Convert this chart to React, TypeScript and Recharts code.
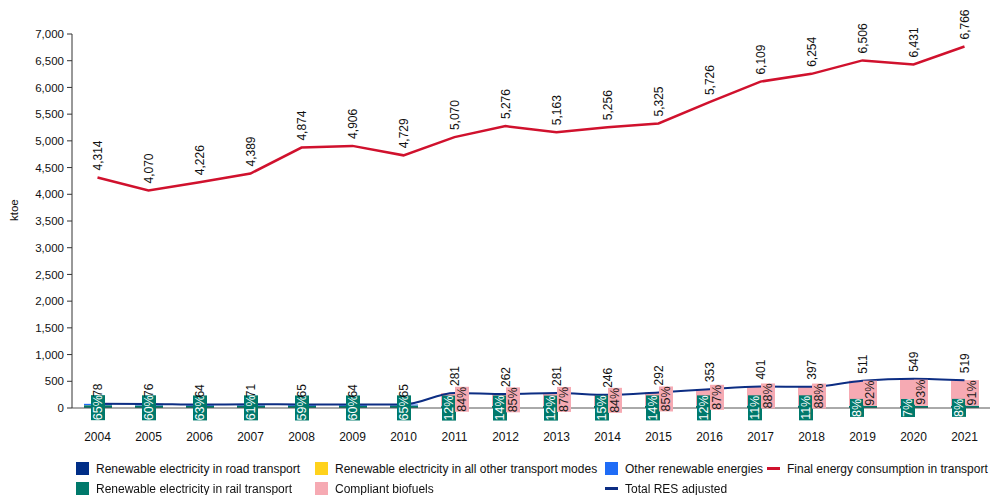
import React from 'react';
import {
  ComposedChart,
  Bar,
  Line,
  XAxis,
  YAxis,
  LabelList,
} from 'recharts';

const years = [
  '2004', '2005', '2006', '2007', '2008', '2009', '2010', '2011', '2012',
  '2013', '2014', '2015', '2016', '2017', '2018', '2019', '2020', '2021',
];

// ktoe
const finalConsumption = [
  4314, 4070, 4226, 4389, 4874, 4906, 4729, 5070, 5276,
  5163, 5256, 5325, 5726, 6109, 6254, 6506, 6431, 6766,
];
const totalRes = [
  78, 76, 64, 71, 65, 64, 65, 281, 262,
  281, 246, 292, 353, 401, 397, 511, 549, 519,
];
const railElec = [
  50, 45, 40, 43, 38, 38, 42, 34, 37,
  34, 37, 41, 42, 44, 44, 41, 38, 42,
];
const biofuels = [
  0, 0, 0, 0, 0, 0, 0, 236, 223,
  244, 207, 248, 307, 353, 349, 470, 511, 472,
];
const roadElec = [
  2, 2, 2, 2, 2, 2, 2, 1, 1,
  1, 1, 1, 1, 1, 1, 1, 1, 1,
];
const otherModesElec = [
  2, 2, 2, 2, 2, 2, 3, 1, 1,
  1, 1, 1, 1, 1, 1, 1, 1, 1,
];
const otherRenewables = [
  24, 27, 20, 24, 23, 22, 18, 9, 2,
  2, 1, 2, 3, 3, 3, 0, 0, 3,
];

const railShare = [
  '65%', '60%', '63%', '61%', '59%', '60%', '65%', '12%', '14%',
  '12%', '15%', '14%', '12%', '11%', '11%', '8%', '7%', '8%',
];
const bioShare = [
  '', '', '', '', '', '', '', '84%', '85%',
  '87%', '84%', '85%', '87%', '88%', '88%', '92%', '93%', '91%',
];

const yTicks = [0, 500, 1000, 1500, 2000, 2500, 3000, 3500, 4000, 4500, 5000, 5500, 6000, 6500, 7000];

const C = {
  road: '#002e87',
  other: '#ffd21c',
  renew: '#1f6cf6',
  rail: '#00796b',
  bio: '#f6aab3',
  final: '#d0112d',
  total: '#0c2d83',
};

const FONT = '"Liberation Sans", Arial, sans-serif';

const data = years.map((year, i) => ({
  year,
  rail: railElec[i],
  road: roadElec[i],
  otherModes: otherModesElec[i],
  renew: otherRenewables[i],
  bio: biofuels[i],
  railPct: railShare[i],
  bioPct: bioShare[i],
  final: finalConsumption[i],
  total: totalRes[i],
}));

const fmt = (v: number) => v.toLocaleString('en-US');

function lineLabel(gap: number) {
  return (props: any) => {
    const { x, y, value } = props;
    const ty = y - gap;
    return (
      <text
        x={x + 1}
        y={ty}
        transform={`rotate(-90 ${x + 1} ${ty})`}
        textAnchor="start"
        dominantBaseline="central"
        fontSize={12}
        fontFamily={FONT}
        fill="#111"
      >
        {fmt(value)}
      </text>
    );
  };
}

function shareLabel(kind: 'rail' | 'bio') {
  return (props: any) => {
    const { x, y, width, height, value, index } = props;
    if (!value) return null;
    const hasBio = bioShare[index] !== '';
    const cx = x + width / 2 + (kind === 'bio' ? 7 : hasBio ? -6 : 0);
    const cy = y + height / 2 + (kind === 'rail' ? 1 : 0);
    const len = String(value).length * 7 + 4;
    const bg = kind === 'rail' ? C.rail : C.bio;
    const fg = kind === 'rail' ? '#ffffff' : '#1a1a1a';
    return (
      <g>
        <rect x={cx - 7} y={cy - len / 2} width={14} height={len} fill={bg} />
        <text
          x={cx + 0.5}
          y={cy}
          transform={`rotate(-90 ${cx + 0.5} ${cy})`}
          textAnchor="middle"
          dominantBaseline="central"
          fontSize={12.5}
          fontFamily={FONT}
          fill={fg}
        >
          {value}
        </text>
      </g>
    );
  };
}

const legendItems = [
  { label: 'Renewable electricity in road transport', color: C.road, type: 'box', left: 76, top: 462 },
  { label: 'Renewable electricity in all other transport modes', color: C.other, type: 'box', left: 315, top: 462 },
  { label: 'Other renewable energies', color: C.renew, type: 'box', left: 605, top: 462 },
  { label: 'Final energy consumption in transport', color: C.final, type: 'line', left: 767, top: 462 },
  { label: 'Renewable electricity in rail transport', color: C.rail, type: 'box', left: 76, top: 482 },
  { label: 'Compliant biofuels', color: C.bio, type: 'box', left: 315, top: 482 },
  { label: 'Total RES adjusted', color: C.total, type: 'line', left: 605, top: 482 },
];

export default function App() {
  return (
    <div style={{ position: 'fixed', left: 0, top: 0, width: 992, height: 495, background: '#fff', fontFamily: FONT }}>
      <ComposedChart
        width={992}
        height={450}
        data={data}
        margin={{ top: 34, right: 2, left: 0, bottom: 0 }}
        barSize={28}
      >
        <XAxis
          dataKey="year"
          height={42}
          tickLine={false}
          tickSize={6}
          tickMargin={18}
          axisLine={{ stroke: '#555' }}
          tick={{ fontSize: 12, fill: '#111', fontFamily: FONT }}
          interval={0}
        />
        <YAxis
          width={72}
          domain={[0, 7000]}
          ticks={yTicks}
          tickFormatter={fmt}
          tickSize={5}
          tickMargin={3}
          axisLine={{ stroke: '#333' }}
          tickLine={{ stroke: '#333' }}
          tick={{ fontSize: 11.5, fill: '#111', fontFamily: FONT }}
          label={{ value: 'ktoe', angle: -90, position: 'insideLeft', offset: 14, fontSize: 11.5, fill: '#111', fontFamily: FONT }}
        />
        <Bar dataKey="rail" stackId="res" fill={C.rail} isAnimationActive={false}>
          <LabelList dataKey="railPct" content={shareLabel('rail')} />
        </Bar>
        <Bar dataKey="road" stackId="res" fill={C.road} isAnimationActive={false} />
        <Bar dataKey="otherModes" stackId="res" fill={C.other} isAnimationActive={false} />
        <Bar dataKey="renew" stackId="res" fill={C.renew} isAnimationActive={false} />
        <Bar dataKey="bio" stackId="res" fill={C.bio} isAnimationActive={false}>
          <LabelList dataKey="bioPct" content={shareLabel('bio')} />
        </Bar>
        <Line
          dataKey="total"
          type="monotone"
          stroke={C.total}
          strokeWidth={2}
          dot={false}
          isAnimationActive={false}
        >
          <LabelList dataKey="total" content={lineLabel(7)} />
        </Line>
        <Line
          dataKey="final"
          type="linear"
          stroke={C.final}
          strokeWidth={2.5}
          dot={false}
          isAnimationActive={false}
        >
          <LabelList dataKey="final" content={lineLabel(7)} />
        </Line>
      </ComposedChart>
      {legendItems.map((it) => (
        <div
          key={it.label}
          style={{ position: 'absolute', left: it.left, top: it.top, display: 'flex', alignItems: 'center', height: 13, fontSize: 12, color: '#111', whiteSpace: 'nowrap' }}
        >
          {it.type === 'box' ? (
            <span style={{ width: 13, height: 13, background: it.color, display: 'inline-block' }} />
          ) : (
            <span style={{ width: 13, height: 3, background: it.color, display: 'inline-block' }} />
          )}
          <span style={{ marginLeft: 7 }}>{it.label}</span>
        </div>
      ))}
    </div>
  );
}
